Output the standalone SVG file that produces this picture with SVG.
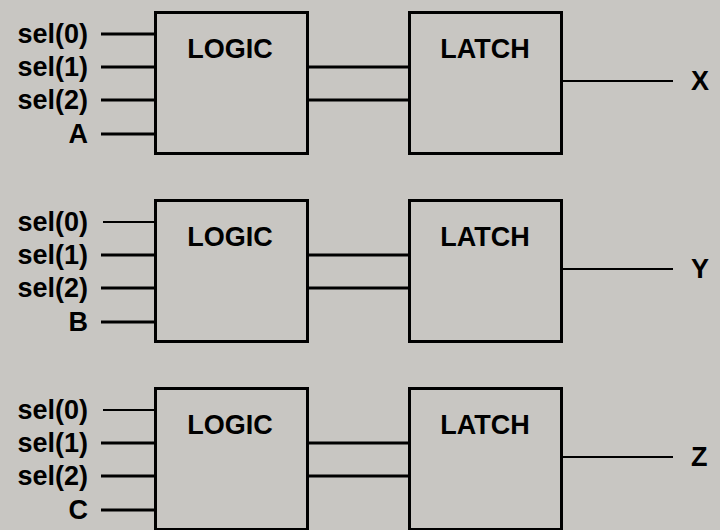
<svg xmlns="http://www.w3.org/2000/svg" width="720" height="530" viewBox="0 0 720 530">
<style>
.bg{fill:#c8c6c2}
.box{fill:none;stroke:#000;stroke-width:3}
.w{stroke:#000;stroke-width:3;fill:none}
.t{stroke:#000;stroke-width:2;fill:none}
text{font-family:"Liberation Sans",Arial,sans-serif;font-weight:bold;font-size:27px;fill:#000}
.lbl{text-anchor:end}
.mid{text-anchor:middle}
</style>
<rect class="bg" x="0" y="0" width="720" height="530"/>
<g id="connectors">
<line class="w" x1="101" y1="34" x2="155" y2="34"/>
<line class="w" x1="101" y1="67" x2="155" y2="67"/>
<line class="w" x1="101" y1="100" x2="155" y2="100"/>
<line class="w" x1="101" y1="134" x2="155" y2="134"/>
<line class="w" x1="307" y1="67" x2="410" y2="67"/>
<line class="w" x1="307" y1="100" x2="410" y2="100"/>
<line class="t" x1="562" y1="81" x2="673" y2="81"/>
<line class="t" x1="103" y1="222" x2="155" y2="222"/>
<line class="w" x1="101" y1="255" x2="155" y2="255"/>
<line class="w" x1="101" y1="288" x2="155" y2="288"/>
<line class="w" x1="101" y1="322" x2="155" y2="322"/>
<line class="w" x1="307" y1="255" x2="410" y2="255"/>
<line class="w" x1="307" y1="288" x2="410" y2="288"/>
<line class="t" x1="562" y1="269" x2="673" y2="269"/>
<line class="t" x1="103" y1="410" x2="155" y2="410"/>
<line class="w" x1="101" y1="443" x2="155" y2="443"/>
<line class="w" x1="101" y1="476" x2="155" y2="476"/>
<line class="w" x1="101" y1="510" x2="155" y2="510"/>
<line class="w" x1="307" y1="443" x2="410" y2="443"/>
<line class="w" x1="307" y1="476" x2="410" y2="476"/>
<line class="t" x1="562" y1="457" x2="673" y2="457"/>
</g>
<g id="inputs1">
<text class="lbl" x="88" y="43">sel(0)</text>
<text class="lbl" x="88" y="76">sel(1)</text>
<text class="lbl" x="88" y="109">sel(2)</text>
<text class="lbl" x="88" y="143">A</text>
</g>
<g id="logic1"><rect class="box" x="155.5" y="12.5" width="152" height="141"/><text class="mid" x="230" y="58">LOGIC</text></g>
<g id="latch1"><rect class="box" x="409.5" y="12.5" width="152" height="141"/><text class="mid" x="485" y="58">LATCH</text></g>
<g id="outX"><text x="691" y="90">X</text></g>
<g id="inputs2">
<text class="lbl" x="88" y="231">sel(0)</text>
<text class="lbl" x="88" y="264">sel(1)</text>
<text class="lbl" x="88" y="297">sel(2)</text>
<text class="lbl" x="88" y="331">B</text>
</g>
<g id="logic2"><rect class="box" x="155.5" y="200.5" width="152" height="141"/><text class="mid" x="230" y="246">LOGIC</text></g>
<g id="latch2"><rect class="box" x="409.5" y="200.5" width="152" height="141"/><text class="mid" x="485" y="246">LATCH</text></g>
<g id="outY"><text x="691" y="278">Y</text></g>
<g id="inputs3">
<text class="lbl" x="88" y="419">sel(0)</text>
<text class="lbl" x="88" y="452">sel(1)</text>
<text class="lbl" x="88" y="485">sel(2)</text>
<text class="lbl" x="88" y="519">C</text>
</g>
<g id="logic3"><rect class="box" x="155.5" y="388.5" width="152" height="141"/><text class="mid" x="230" y="434">LOGIC</text></g>
<g id="latch3"><rect class="box" x="409.5" y="388.5" width="152" height="141"/><text class="mid" x="485" y="434">LATCH</text></g>
<g id="outZ"><text x="691" y="466">Z</text></g>
</svg>
